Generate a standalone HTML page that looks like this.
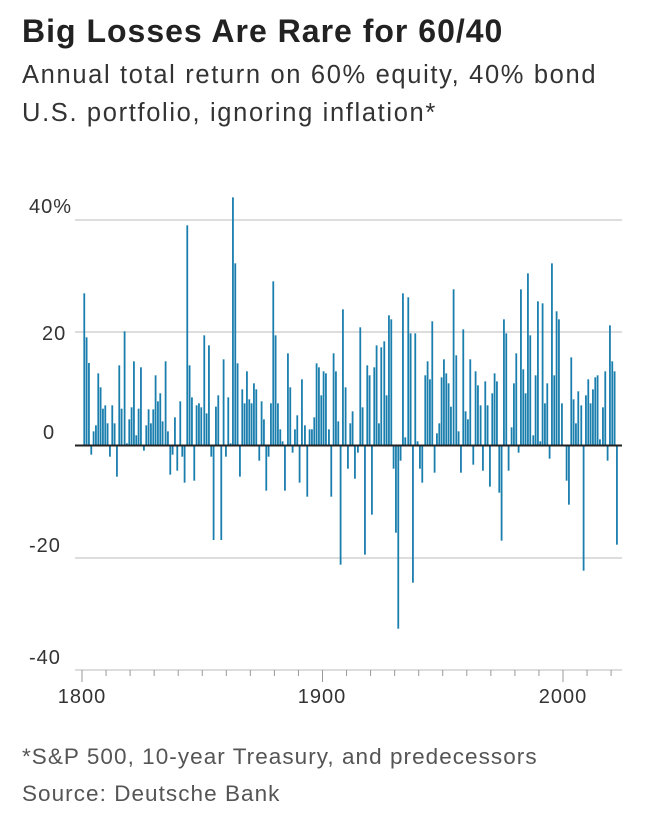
<!DOCTYPE html>
<html><head><meta charset="utf-8"><style>
body{margin:0;background:#fff;width:646px;height:824px;overflow:hidden;font-family:"Liberation Sans",sans-serif;}
.t{position:absolute;left:22px;top:13px;font-size:32px;font-weight:bold;color:#222;letter-spacing:1px;}
.s{position:absolute;left:22px;top:56px;font-size:25.5px;color:#333;line-height:38px;letter-spacing:1.65px;}
.f{position:absolute;left:22px;top:738px;font-size:22.5px;color:#555;line-height:37px;letter-spacing:1.05px;}
svg{position:absolute;left:0;top:0}
</style></head><body>
<div class="t">Big Losses Are Rare for 60/40</div>
<div class="s">Annual total return on 60% equity, 40% bond<br>U.S. portfolio, ignoring inflation*</div>
<div class="f">*S&amp;P 500, 10-year Treasury, and predecessors<br>Source: Deutsche Bank</div>
<svg id="c" width="646" height="824" xmlns="http://www.w3.org/2000/svg">
<g stroke="#ddd" stroke-width="2">
<line x1="75" x2="622" y1="220" y2="220"/><line x1="75" x2="622" y1="332" y2="332"/>
<line x1="75" x2="622" y1="558" y2="558"/><line x1="75" x2="622" y1="670" y2="670"/>
</g>
<g font-size="20" fill="#333" font-family="Liberation Sans, sans-serif" letter-spacing="1">
<text x="29" y="213">40%</text><text x="42" y="340">20</text><text x="43" y="439">0</text>
<text x="29" y="552">-20</text><text x="29" y="664">-40</text>
<text x="82" y="703" text-anchor="middle">1800</text><text x="322" y="703" text-anchor="middle">1900</text><text x="563" y="703" text-anchor="middle">2000</text>
</g>
<g id="bars" fill="#1b7fae"></g>
<line x1="75" x2="622" y1="445.5" y2="445.5" stroke="#222" stroke-width="2"/>
<g id="ticks" stroke="#999" stroke-width="1"></g>
</svg>
<script>
var Z=[[75,[[26,400],[33,532],[40,609],[47,884],[54,814],[61,796],[68,640],[75,682],[82,746],[89,736],[96,790],[103,890],[110,736],[117,790],[124,950],[131,616],[138,746],[147,514],[154,850],[161,778],[168,742],[175,604],[182,826],[189,746],[196,622],[205,872],[212,796],[219,748],[226,790],[233,748],[240,646],[247,724],[254,700],[261,784],[270,604],[277,814],[284,944],[291,884],[298,772],[305,932],[314,724],[320,890],[327,968],[335,196],[342,616],[349,712],[356,962],[363,736],[370,730],[377,742],[386,526],[393,760],[400,556]]],
[210,[[2,890],[9,1140],[16,740],[23,706],[32,1140],[39,598],[46,890],[53,712],[60,850],[67,112],[74,310],[81,610],[88,950],[95,688],[102,730],[109,634],[116,718],[123,730],[130,670],[137,688],[146,902],[153,724],[160,778],[167,992],[174,890],[181,730],[188,364],[195,526],[202,730],[209,808],[216,844],[223,992],[232,580],[239,682],[246,878],[253,808],[260,766],[267,968],[274,658],[283,796],[290,1010],[297,808],[304,808],[311,772],[318,610],[325,622],[332,706],[339,634],[346,640],[355,808],[362,1010],[369,580],[376,634],[383,784],[390,1214],[397,448]]],
[345,[[0,682],[7,926],[14,790],[21,754],[28,956],[37,878],[44,502],[51,742],[58,1184],[65,616],[72,646],[79,1064],[86,622],[93,556],[100,790],[107,562],[116,544],[123,706],[130,466],[137,478],[144,926],[151,1118],[158,1406],[165,902],[172,400],[179,832],[188,412],[195,520],[202,1268],[209,520],[216,844],[223,926],[230,968],[239,646],[246,604],[253,658],[260,484],[267,938],[274,820],[281,790],[288,652],[295,598],[302,640],[309,670],[316,740],[324,388],[332,586],[339,814],[346,938],[353,508],[360,754],[367,778],[374,598],[383,914],[390,634],[397,676]]],
[480,[[0,736],[7,932],[14,664],[21,736],[28,980],[35,700],[42,640],[49,664],[56,998],[63,1142],[70,478],[77,520],[84,932],[93,802],[100,670],[107,580],[114,878],[121,388],[128,628],[135,700],[142,340],[149,526],[158,826],[165,646],[172,424],[179,844],[186,430],[193,730],[200,670],[207,896],[214,310],[221,646],[228,454],[235,478],[244,730],[258,962],[265,1034],[272,592],[279,718],[286,790],[293,694],[302,736],[309,1232],[316,706],[323,658],[330,730],[337,688],[344,652],[351,646],[358,838],[367,742],[374,634],[381,902],[388,496],[395,604],[402,634],[409,1154]]]];
var g=document.getElementById('bars'),s='';
Z.forEach(function(z){z[1].forEach(function(b){var x=z[0]+b[0]/3-0.3,y=160+b[1]/3,b0=445.3;var top=Math.min(y,b0),h=Math.abs(y-b0);
s+='<rect x="'+x.toFixed(2)+'" y="'+top.toFixed(2)+'" width="1.8" height="'+h.toFixed(2)+'"/>';});});
g.innerHTML=s;
var t='';for(var yr=1800;yr<=2020;yr+=10){var x=82+(yr-1800)*2.405;t+='<line x1="'+x+'" x2="'+x+'" y1="670" y2="'+(yr%100==0?682:676)+'"/>';}
document.getElementById('ticks').innerHTML=t;
</script>
</body></html>
